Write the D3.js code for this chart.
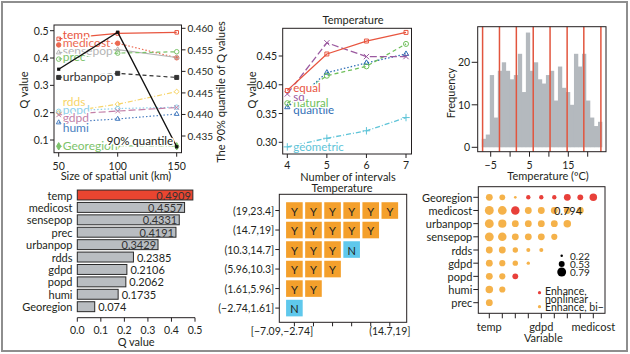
<!DOCTYPE html>
<html><head><meta charset="utf-8">
<script src="https://cdn.jsdelivr.net/npm/d3@7"></script>
<style>body{margin:0;background:#fff}svg{display:block;font-family:Lato,"Open Sans",sans-serif}</style>
</head><body><svg id="c" width="630" height="354"></svg>
<script>
// ---------- DATA ----------
// Panel 1: Q value vs size of spatial unit
const unitSizes = [50, 100, 150];
const q_temp = [0.470, 0.490, 0.494];
const q_medicost = [0.448, 0.454, 0.401];
const q_sensepop = [0.420, 0.431, 0.402];
const q_prec = [0.396, 0.418, 0.423];
const q_urbanpop = [0.329, 0.344, 0.329];
const q_rdds = [0.199, 0.231, 0.277];
const q_popd = [0.205, 0.215, 0.220];
const q_gdpd = [0.192, 0.206, 0.219];
const q_humi = [0.164, 0.177, 0.195];
const q_georegion = [0.077, 0.079, 0.077];
const quantile90 = [0.4505, 0.4591, 0.4325];
const leftTicks1 = [0.1, 0.2, 0.3, 0.4, 0.5];
const rightTicks1 = [0.435, 0.440, 0.445, 0.450, 0.455, 0.460];

// Panel 2: Q value vs number of intervals
const intervals = [4, 5, 6, 7];
const m_equal = [0.390, 0.4535, 0.476, 0.491];
const m_sd = [0.384, 0.473, 0.449, 0.449];
const m_natural = [0.368, 0.4157, 0.432, 0.471];
const m_quantile = [0.361, 0.421, 0.438, 0.4535];
const m_geometric = [0.292, 0.307, 0.320, 0.343];
const yTicks2 = [0.30, 0.35, 0.40, 0.45];

// Panel 3: histogram of temperature
const histCounts = [2,3,17,7,18,20,18,16,17,22,13,27,18,20,16,15,17,18,11,19,14,13,10,22,19,22,11,7,5,6];
const histStart = -7.3, histWidth = 1.033;
const breaks = [-7.09, -2.74, 1.61, 5.96, 10.3, 14.7, 19, 23.4];
const xTicks3 = [-5, 0, 5, 10, 15, 20];
const xTickLabels3 = ["\u22125", "", "5", "", "15", ""];
const yTicks3 = [0, 10, 20];

// Panel 4: Q values of variables
const variables = ["temp","medicost","sensepop","prec","urbanpop","rdds","gdpd","popd","humi","Georegion"];
const qValues = [0.4909,0.4557,0.4331,0.4191,0.3429,0.2385,0.2106,0.2062,0.1735,0.074];
const qLabels = ["0.4909","0.4557","0.4331","0.4191","0.3429","0.2385","0.2106","0.2062","0.1735","0.074"];
const xTicks4 = [0, 0.1, 0.2, 0.3, 0.4, 0.5];

// Panel 5: significance matrix
const rowIntervals = ["(19,23.4]","(14.7,19]","(10.3,14.7]","(5.96,10.3]","(1.61,5.96]","(\u22122.74,1.61]"];
const colIntervals = ["[\u22127.09,\u22122.74]","(\u22122.74,1.61]","(1.61,5.96]","(5.96,10.3]","(10.3,14.7]","(14.7,19]"];
const colTickLabels = ["[\u22127.09,\u22122.74]","","","","","(14.7,19]"];
const sigMatrix = [
  ["Y","Y","Y","Y","Y","Y"],
  ["Y","Y","Y","Y","Y"],
  ["Y","Y","Y","N"],
  ["Y","Y","Y"],
  ["Y","Y"],
  ["N"]
];

// Panel 6: interaction detector
const rowVars = ["Georegion","medicost","urbanpop","sensepop","rdds","gdpd","popd","humi","prec"];
const colVars = ["temp","prec","humi","popd","gdpd","rdds","sensepop","urbanpop","medicost"];
const colTickLabels6 = ["temp","","","","gdpd","","","","medicost"];
const interQ = [
  [0.61,0.52,0.24,0.39,0.39,0.39,0.61,0.52,0.67],
  [0.794,0.78,0.76,0.61,0.61,0.61,0.61,0.61],
  [0.79,0.73,0.61,0.61,0.61,0.61,0.67],
  [0.79,0.76,0.61,0.61,0.61,0.55],
  [0.61,0.61,0.48,0.36,0.36],
  [0.61,0.55,0.48,0.30],
  [0.61,0.55,0.52],
  [0.67,0.55],
  [0.61]
];
const interType = [
  ["b","b","b","n","n","n","n","n","n"],
  ["b","b","n","b","b","b","b","b"],
  ["b","b","b","b","b","b","b"],
  ["b","b","b","b","b","b"],
  ["b","b","b","b","b"],
  ["b","b","b","b"],
  ["b","b","n"],
  ["b","b"],
  ["b"]
];
const sizeLegend = [0.22, 0.53, 0.79];

// ---------- DRAW ----------
const svg = d3.select("#c");
const TXT = "#231f20";
const FS = 11;
const TFS = 10.5;

function text(g, x, y, s, opt = {}) {
  const t = g.append("text").attr("x", x).attr("y", y).text(s)
    .attr("font-size", opt.size || FS).attr("fill", opt.fill || TXT)
    .attr("text-anchor", opt.anchor || "start")
    .attr("dominant-baseline", "central");
  if (opt.rotate) t.attr("transform", `rotate(-90,${x},${y})`);
  if (opt.halo) t.attr("stroke", "#fff").attr("stroke-width", 3).attr("paint-order", "stroke").attr("stroke-linejoin","round");
  return t;
}
function box(g, l, r, t, b) {
  g.append("rect").attr("x", l).attr("y", t).attr("width", r - l).attr("height", b - t)
    .attr("fill", "none").attr("stroke", "#231f20").attr("stroke-width", 1);
}
function leftTicks(g, scale, ticks, xAxis, fmt, len = 4) {
  ticks.forEach(v => {
    g.append("line").attr("x1", xAxis - len).attr("x2", xAxis).attr("y1", scale(v)).attr("y2", scale(v)).attr("stroke", TXT);
    if (fmt(v) !== "") text(g, xAxis - len - 1.5, scale(v), fmt(v), {anchor: "end", size: TFS});
  });
}
function bottomTicks(g, scale, ticks, yAxis, labels, len = 4, ly = 9) {
  ticks.forEach((v, i) => {
    g.append("line").attr("y1", yAxis).attr("y2", yAxis + len).attr("x1", scale(v)).attr("x2", scale(v)).attr("stroke", TXT);
    if (labels[i] !== "") text(g, scale(v), yAxis + len + ly, labels[i], {anchor: "middle", size: TFS});
  });
}
function marker(g, type, x, y, color, filled, size) {
  g.append("path").attr("d", d3.symbol().type(type).size(size || 18)())
    .attr("transform", `translate(${x},${y})`)
    .attr("fill", filled ? color : "none").attr("stroke", color).attr("stroke-width", 1);
}

// Outer frame
svg.append("rect").attr("x", 2).attr("y", 2).attr("width", 625).attr("height", 349)
  .attr("fill", "#fff").attr("stroke", "#8e8e8e").attr("stroke-width", 2);

// ----- Panel 1 -----
{
  const g = svg.append("g");
  const L = 54, R = 181.5, T = 25, B = 152.7;
  const x = d3.scaleLinear().domain([50, 150]).range([58.7, 176.7]);
  const y = d3.scaleLinear().domain([0.1, 0.5]).range([140, 30.7]);
  const yr = d3.scaleLinear().domain([0.435, 0.460]).range([136, 28.3]);
  const series = [
    {n: "temp", v: q_temp, c: "#e8553f", dash: null, sym: d3.symbolSquare2, f: false, dy: -4},
    {n: "medicost", v: q_medicost, c: "#ec6a52", dash: "1.5,2", sym: d3.symbolCircle, f: true, dy: -2},
    {n: "sensepop", v: q_sensepop, c: "#b5b5b5", dash: null, sym: d3.symbolTriangle2, f: false, dy: -2},
    {n: "prec", v: q_prec, c: "#7dc36b", dash: "4,3", sym: d3.symbolCircle, f: false, dy: -3},
    {n: "urbanpop", v: q_urbanpop, c: "#333333", dash: "4,3", sym: d3.symbolSquare, f: true, dy: -1},
    {n: "rdds", v: q_rdds, c: "#f7d56a", dash: "5,2,1,2", sym: d3.symbolDiamond2, f: false, dy: -11.5},
    {n: "popd", v: q_popd, c: "#8dd0ea", dash: "1.5,2", sym: d3.symbolCircle, f: false, dy: -2},
    {n: "gdpd", v: q_gdpd, c: "#c27fa8", dash: "7,3", sym: d3.symbolTimes, f: false, dy: 2.5},
    {n: "humi", v: q_humi, c: "#4a7fc1", dash: "1.5,2", sym: d3.symbolTriangle2, f: false, dy: 5},
    {n: "Georegion", v: q_georegion, c: "#7dc36b", dash: "5,2,1,2", sym: d3.symbolDiamond, f: true, dy: -0.5}
  ];
  const line = d3.line().x((d, i) => x(unitSizes[i])).y(d => y(d));
  series.forEach(s => {
    g.append("path").attr("d", line(s.v)).attr("fill", "none").attr("stroke", s.c).attr("stroke-width", 1.2)
      .attr("stroke-dasharray", s.dash);
  });
  series.forEach(s => {
    s.v.forEach((v, i) => marker(g, s.sym, x(unitSizes[i]), y(v), s.c, s.f, 16));
  });
  series.forEach(s => {
    text(g, x(50) + 4, y(s.v[0]) + s.dy, s.n, {fill: s.c, size: 12, halo: true});
  });
  // 90% quantile line
  const ql = d3.line().x((d, i) => x(unitSizes[i])).y(d => yr(d));
  g.append("path").attr("d", ql(quantile90)).attr("fill", "none").attr("stroke", "#111").attr("stroke-width", 1.4);
  quantile90.forEach((v, i) => g.append("rect").attr("x", x(unitSizes[i]) - 1.6).attr("y", yr(v) - 1.6).attr("width", 3.2).attr("height", 3.2).attr("fill", "#111"));
  text(g, 140, 140, "90% quantile", {anchor: "middle", size: 11.5, halo: true});
  box(g, L, R, T, B);
  leftTicks(g, y, leftTicks1, L, d => d3.format(".1f")(d));
  rightTicks1.forEach(v => {
    g.append("line").attr("x1", R).attr("x2", R + 4).attr("y1", yr(v)).attr("y2", yr(v)).attr("stroke", TXT);
    text(g, R + 6, yr(v), d3.format(".3f")(v), {size: 10});
  });
  bottomTicks(g, x, unitSizes, B, unitSizes.map(String));
  text(g, 116, 175, "Size of spatial unit (km)", {anchor: "middle"});
  text(g, 23, 90, "Q value", {anchor: "middle", rotate: true});
  text(g, 220.5, 92, "The 90% quantile of Q values", {anchor: "middle", rotate: true});
}

// ----- Panel 2 -----
{
  const g = svg.append("g");
  const L = 282.7, R = 411.5, T = 28.3, B = 154;
  const x = d3.scaleLinear().domain([4, 7]).range([287.3, 406]);
  const y = d3.scaleLinear().domain([0.30, 0.45]).range([142.3, 56]);
  const series = [
    {n: "geometric", v: m_geometric, c: "#5fc4d8", dash: "5,2,1,2", sym: d3.symbolPlus, dy: 0},
    {n: "quantile", v: m_quantile, c: "#2f6eb5", dash: "1.5,2", sym: d3.symbolTriangle2, dy: 2},
    {n: "natural", v: m_natural, c: "#6fbf5a", dash: "4,3", sym: d3.symbolCircle, dy: -0.6},
    {n: "sd", v: m_sd, c: "#9b5aa0", dash: "7,3", sym: d3.symbolTimes, dy: 2.6},
    {n: "equal", v: m_equal, c: "#e8553f", dash: null, sym: d3.symbolSquare2, dy: -3.4}
  ];
  const line = d3.line().x((d, i) => x(intervals[i])).y(d => y(d));
  series.forEach(s => {
    g.append("path").attr("d", line(s.v)).attr("fill", "none").attr("stroke", s.c).attr("stroke-width", 1.3)
      .attr("stroke-dasharray", s.dash);
    s.v.forEach((v, i) => marker(g, s.sym, x(intervals[i]), y(v), s.c, false, 20));
  });
  series.forEach(s => text(g, x(4) + 6, y(s.v[0]) + s.dy, s.n, {fill: s.c, size: 11.5, halo: true}));
  box(g, L, R, T, B);
  leftTicks(g, y, yTicks2, L, d => d3.format(".2f")(d));
  bottomTicks(g, x, intervals, B, intervals.map(String), 4, 7);
  text(g, 348, 176, "Number of intervals", {anchor: "middle"});
  text(g, 251, 90, "Q value", {anchor: "middle", rotate: true});
  text(g, 353, 19.5, "Temperature", {anchor: "middle"});
}

// ----- Panel 3 -----
{
  const g = svg.append("g");
  const L = 477.7, R = 606, T = 26.7, B = 151.7;
  const x = d3.scaleLinear().domain([-5, 15]).range([490.7, 568.3]);
  const y = d3.scaleLinear().domain([0, 20]).range([147.3, 62.3]);
  histCounts.forEach((c, i) => {
    const a = histStart + i * histWidth;
    g.append("rect").attr("x", x(a)).attr("width", x(a + histWidth) - x(a) + 0.3)
      .attr("y", y(c)).attr("height", y(0) - y(c)).attr("fill", "#b4b9be");
  });
  breaks.forEach(b => g.append("line").attr("x1", x(b)).attr("x2", x(b)).attr("y1", T).attr("y2", B)
    .attr("stroke", "#e2553e").attr("stroke-width", 1.5));
  box(g, L, R, T, B);
  leftTicks(g, y, yTicks3, L, d => String(d), 6);
  bottomTicks(g, x, xTicks3, B, xTickLabels3, 5, 8);
  text(g, 548, 175, "Temperature (\u00baC)", {anchor: "middle"});
  text(g, 450, 93, "Frequency", {anchor: "middle", rotate: true});
}

// ----- Panel 4 -----
{
  const g = svg.append("g");
  const x = d3.scaleLinear().domain([0, 0.5]).range([77.3, 195]);
  const y = d3.scaleBand().domain(variables).range([188.8, 312.9]).paddingInner(0.2).paddingOuter(0.1);
  variables.forEach((v, i) => {
    const q = qValues[i];
    g.append("rect").attr("x", x(0)).attr("y", y(v)).attr("width", x(q) - x(0)).attr("height", y.bandwidth())
      .attr("fill", i === 0 ? "#ea4530" : "#b9bdc1").attr("stroke", "#2a2a2a").attr("stroke-width", 1);
    text(g, 72.5, y(v) + y.bandwidth() / 2, v, {anchor: "end"});
    if (q > 0.3) text(g, x(q) - 2, y(v) + y.bandwidth() / 2, qLabels[i], {anchor: "end", fill: "#333"});
    else text(g, x(q) + 3.5, y(v) + y.bandwidth() / 2, qLabels[i]);
  });
  const ay = 317.7;
  g.append("line").attr("x1", x(0)).attr("x2", x(0.5)).attr("y1", ay).attr("y2", ay).attr("stroke", TXT);
  bottomTicks(g, x, xTicks4, ay, xTicks4.map(d => d3.format(".1f")(d)), 4, 8);
  text(g, x(0.25), 341, "Q value", {anchor: "middle"});
}

// ----- Panel 5 -----
{
  const g = svg.append("g");
  const L = 279.3, R = 406.7, T = 194.3, B = 322.3;
  const x = d3.scaleBand().domain(colIntervals).range([283.6, 400.6]).padding(0.13);
  const y = d3.scaleBand().domain(rowIntervals).range([199.3, 319.3]).padding(0.15);
  sigMatrix.forEach((row, i) => row.forEach((s, j) => {
    g.append("rect").attr("x", x(colIntervals[j])).attr("y", y(rowIntervals[i]))
      .attr("width", x.bandwidth()).attr("height", y.bandwidth())
      .attr("fill", s === "Y" ? "#f4a02c" : "#5fc8ec");
    text(g, x(colIntervals[j]) + x.bandwidth() / 2, y(rowIntervals[i]) + y.bandwidth() / 2 + 0.5, s, {anchor: "middle"});
  }));
  box(g, L, R, T, B);
  rowIntervals.forEach(r => {
    const yy = y(r) + y.bandwidth() / 2;
    g.append("line").attr("x1", L - 4).attr("x2", L).attr("y1", yy).attr("y2", yy).attr("stroke", TXT);
    text(g, L - 5, yy, r, {anchor: "end", size: TFS});
  });
  colIntervals.forEach((c, j) => {
    const xx = x(c) + x.bandwidth() / 2;
    g.append("line").attr("x1", xx).attr("x2", xx).attr("y1", B).attr("y2", B + 4).attr("stroke", TXT);
  });
  text(g, 282, 331, colTickLabels[0], {anchor: "middle", size: TFS});
  text(g, x(colIntervals[5]) + x.bandwidth() / 2, 331, colTickLabels[5], {anchor: "middle", size: TFS});
  text(g, 342, 187, "Temperature", {anchor: "middle"});
}

// ----- Panel 6 -----
{
  const g = svg.append("g");
  const L = 478.3, R = 605, T = 186.7, B = 313.3;
  const x = d3.scalePoint().domain(colVars).range([489.3, 593.3]);
  const y = d3.scalePoint().domain(rowVars).range([197.3, 302.7]);
  const r = d3.scaleLinear().domain([0, 1]).range([0, 5.6]);
  interQ.forEach((row, i) => row.forEach((v, j) => {
    g.append("circle").attr("cx", x(colVars[j])).attr("cy", y(rowVars[i])).attr("r", r(v))
      .attr("fill", interType[i][j] === "n" ? "#e8403a" : "#f5b24a");
  }));
  text(g, 568, 210, "0.794", {anchor: "middle"});
  // legend
  const lgY = [255.7, 264, 272];
  sizeLegend.forEach((v, i) => {
    g.append("circle").attr("cx", 561.7).attr("cy", lgY[i]).attr("r", r(v)).attr("fill", "#000");
    text(g, 570, lgY[i], String(v), {size: 10});
  });
  g.append("circle").attr("cx", 539.5).attr("cy", 292.7).attr("r", 1.6).attr("fill", "#e8403a");
  text(g, 545, 291, "Enhance,", {size: 10.5});
  text(g, 545, 298.5, "nonlinear", {size: 10.5});
  g.append("circle").attr("cx", 539.5).attr("cy", 306.7).attr("r", 1.6).attr("fill", "#f5b24a");
  text(g, 545, 307.3, "Enhance, bi\u2212", {size: 10.5});
  // cover overflow right of box
  g.append("rect").attr("x", R + 0.5).attr("y", T).attr("width", 10).attr("height", B - T).attr("fill", "#fff");
  box(g, L, R, T, B);
  rowVars.forEach(v => {
    g.append("line").attr("x1", L - 5).attr("x2", L).attr("y1", y(v)).attr("y2", y(v)).attr("stroke", TXT);
    text(g, L - 6, y(v), v, {anchor: "end"});
  });
  colVars.forEach((v, j) => {
    g.append("line").attr("x1", x(v)).attr("x2", x(v)).attr("y1", B).attr("y2", B + 5).attr("stroke", TXT);
    if (colTickLabels6[j] !== "") text(g, x(v), 326, colTickLabels6[j], {anchor: "middle"});
  });
  text(g, 543.3, 337, "Variable", {anchor: "middle"});
}
</script></body></html>
